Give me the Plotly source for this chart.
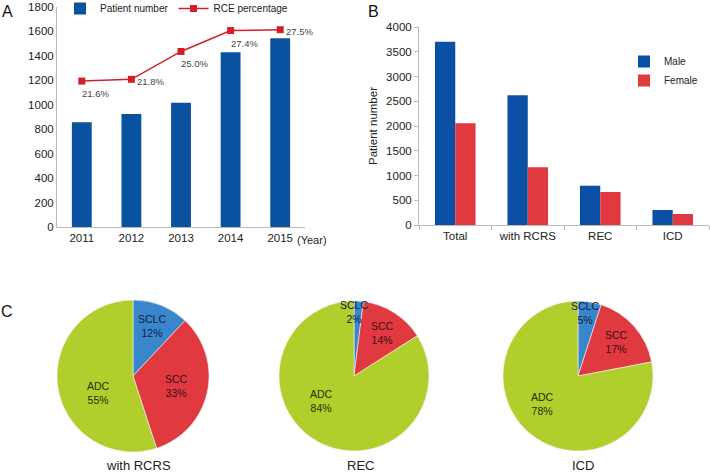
import plotly.graph_objects as go

W, H = 710, 473

# ---- Panel A data ----
years = ["2011", "2012", "2013", "2014", "2015"]
patient_number = [857, 925, 1017, 1429, 1544]
rce_percentage = [21.6, 21.8, 25.0, 27.4, 27.5]
a_yticks = [0, 200, 400, 600, 800, 1000, 1200, 1400, 1600, 1800]

# ---- Panel B data ----
groups = ["Total", "with RCRS", "REC", "ICD"]
male = [3703, 2620, 794, 303]
female = [2054, 1165, 667, 222]
b_yticks = [0, 500, 1000, 1500, 2000, 2500, 3000, 3500, 4000]

# ---- Panel C data ----
pie_labels = ["SCLC", "SCC", "ADC"]
pie_titles = ["with RCRS", "REC", "ICD"]
pie_values = [
    [12, 33, 55],
    [2, 14, 84],
    [5, 17, 78],
]

FONT = "Liberation Sans, Arial, Helvetica, sans-serif"
BLUE_A = "#0a52a0"
BLUE_B = "#0b50a5"
RED_B = "#e0393f"
RED_LINE = "#d0202a"
PIE_COLORS = ["#3a86cc", "#e03a40", "#b0cf2c"]
PIE_TEXT = ["#0f2142", "#3a0e10", "#243000"]
TICK = 11.5


def px(x):
    return x / W


def py(y):
    return 1 - y / H


fig = go.Figure()

# Panel A
fig.add_trace(go.Bar(
    x=years, y=patient_number, name="Patient number",
    marker=dict(color=BLUE_A, line=dict(width=0)), width=0.4,
    xaxis="x", yaxis="y", legend="legend",
))
fig.add_trace(go.Scatter(
    x=years, y=rce_percentage, name="RCE percentage",
    mode="lines+markers",
    line=dict(color=RED_LINE, width=1.5),
    marker=dict(symbol="square", size=7, color=RED_LINE),
    xaxis="x", yaxis="y3", legend="legend", cliponaxis=False,
))

annotations = []
# value labels of the RCE line, anchored to the data points
label_place = ["below", "right", "below", "below", "right"]
for i, (v, place) in enumerate(zip(rce_percentage, label_place)):
    if place == "below":
        pos = dict(xanchor="left", yanchor="top", xshift=-2, yshift=-5)
    else:
        pos = dict(xanchor="left", yanchor="middle", xshift=4, yshift=-2)
    annotations.append(dict(x=i, y=v, xref="x", yref="y3", text=f"{v:.1f}%", showarrow=False,
                            font=dict(size=9.5, color="#444", family=FONT), **pos))

# Panel B
fig.add_trace(go.Bar(
    x=groups, y=male, name="Male", marker=dict(color=BLUE_B, line=dict(width=0)),
    width=0.28, offset=-0.28,
    xaxis="x2", yaxis="y2", legend="legend2",
))
fig.add_trace(go.Bar(
    x=groups, y=female, name="Female", marker=dict(color=RED_B, line=dict(width=0)),
    width=0.28, offset=0.0,
    xaxis="x2", yaxis="y2", legend="legend2",
))

# Panel C pies (centre x, centre y, radius in px)
pie_boxes = [(133, 376, 76), (354, 376, 75), (578, 376, 75)]
label_offsets = [
    [(19, -50), (43, 10), (-35, 17)],
    [(0, -64), (28, -43), (-33, 25)],
    [(7, -63), (38, -34), (-36, 28)],
]
for i, (vals, (cx, cy, r)) in enumerate(zip(pie_values, pie_boxes)):
    fig.add_trace(go.Pie(
        values=vals, labels=pie_labels, sort=False, direction="clockwise", rotation=0,
        marker=dict(colors=PIE_COLORS, line=dict(color="#f4f4f4", width=0.6)),
        textinfo="none", hoverinfo="label+percent", showlegend=False,
        domain=dict(x=[px(cx - r), px(cx + r)], y=[py(cy + r), py(cy - r)]),
    ))
    for j, (lab, v) in enumerate(zip(pie_labels, vals)):
        dx, dy = label_offsets[i][j]
        annotations.append(dict(
            x=px(cx), y=py(cy), xref="paper", yref="paper", xshift=dx, yshift=-dy,
            xanchor="center", yanchor="middle",
            text=f"{lab}<br>{v}%", showarrow=False,
            font=dict(size=10.5, color=PIE_TEXT[j], family=FONT),
            align="center",
        ))

title_pos = [(138, 465), (360, 465), (583, 465)]
for t, (tx, ty) in zip(pie_titles, title_pos):
    annotations.append(dict(x=px(tx), y=py(ty), xref="paper", yref="paper", text=t,
                            xanchor="center", yanchor="middle",
                            showarrow=False, font=dict(size=13, color="#222", family=FONT)))

# Panel letters and extra labels
for letter, (lx, ly) in zip(["A", "B", "C"], [(7, 12), (373, 12), (7, 311)]):
    annotations.append(dict(x=px(lx), y=py(ly), xref="paper", yref="paper", text=letter,
                            xanchor="center", yanchor="middle",
                            showarrow=False, font=dict(size=16, color="#111", family=FONT)))
annotations.append(dict(x=px(312), y=py(240), xref="paper", yref="paper", text="(Year)",
                        xanchor="center", yanchor="middle",
                        showarrow=False, font=dict(size=11, color="#222", family=FONT)))

axis_common = dict(showgrid=False, zeroline=False, showline=True, linecolor="#bbbbbb",
                   linewidth=1, automargin=False,
                   tickfont=dict(size=TICK, color="#222", family=FONT))

fig.update_layout(
    width=W, height=H, margin=dict(l=0, r=0, t=0, b=0, pad=0, autoexpand=False),
    paper_bgcolor="white", plot_bgcolor="white",
    font=dict(family=FONT, color="#222"),
    barmode="group", bargap=0.6,
    xaxis=dict(domain=[px(57), px(305)], range=[-0.5, 4.5], ticks="", anchor="y",
               type="category", **axis_common),
    yaxis=dict(domain=[py(227), py(7)], range=[0, 1800], tickvals=a_yticks, ticks="",
               anchor="x", **axis_common),
    yaxis3=dict(domain=[py(227), py(7)], range=[4.83, 30.11], overlaying="y", side="right",
                anchor="x", showline=False, showgrid=False, zeroline=False,
                showticklabels=False, ticks="", automargin=False),
    xaxis2=dict(domain=[px(419), px(709)], range=[-0.5, 3.5], ticks="outside", ticklen=4,
                tickcolor="#bbbbbb", tickson="boundaries", anchor="y2", **axis_common),
    yaxis2=dict(domain=[py(225), py(27)], range=[0, 4000], tickvals=b_yticks, ticks="outside",
                ticklen=4, tickcolor="#bbbbbb", anchor="x2",
                title=dict(text="Patient number", standoff=6,
                           font=dict(size=TICK, color="#222", family=FONT)),
                **axis_common),
    legend=dict(orientation="h", x=px(60), xanchor="left", y=py(-6), yanchor="top",
                font=dict(size=10, color="#222", family=FONT), bgcolor="rgba(0,0,0,0)",
                itemwidth=30, traceorder="normal"),
    legend2=dict(orientation="v", x=px(624), xanchor="left", y=py(47), yanchor="top",
                 font=dict(size=10, color="#222", family=FONT), bgcolor="rgba(0,0,0,0)",
                 itemwidth=30),
    annotations=annotations,
)

fig.write_html("out.html", config={"displayModeBar": False},
               post_script="document.body.style.margin='0';document.body.style.padding='0';")
